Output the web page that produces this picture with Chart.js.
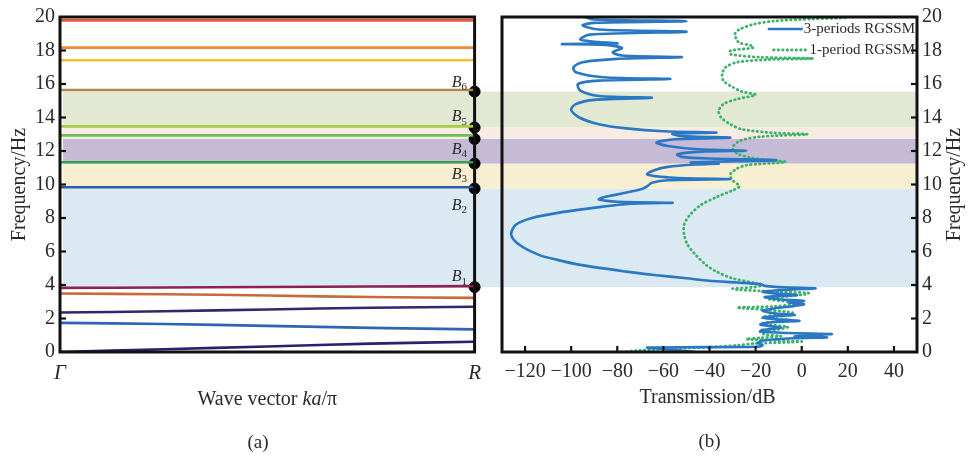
<!DOCTYPE html>
<html><head><meta charset="utf-8">
<script src="https://cdn.jsdelivr.net/npm/chart.js@4.4.1/dist/chart.umd.min.js"></script>
<style>
html,body{margin:0;padding:0;background:#fff;width:972px;height:456px;overflow:hidden}
#wrap{position:relative;width:972px;height:456px;background:#fff}
canvas{position:absolute;top:0}
#cL{left:0;width:490px;height:456px}
#cR{left:490px;width:482px;height:456px}
</style></head><body>
<div id="wrap"><canvas id="cL" width="490" height="456"></canvas><canvas id="cR" width="482" height="456"></canvas></div>
<script>
// ---------- DATA ----------
const freqTicks = [0, 2, 4, 6, 8, 10, 12, 14, 16, 18, 20];
const dbTicks = [-120, -100, -80, -60, -40, -20, 0, 20, 40];
const kTickVals = [0, 1];
const kTickLabels = ['Γ', 'R'];

// band structure (a): wave vector samples and band frequencies (Hz)
const kPts = [0, 0.25, 0.5, 0.75, 1];
const band1 = [0, 0.16, 0.33, 0.5, 0.61];
const band2 = [1.74, 1.67, 1.56, 1.44, 1.35];
const band3 = [2.36, 2.43, 2.54, 2.64, 2.70];
const band4 = [3.49, 3.45, 3.37, 3.28, 3.23];
const band5 = [3.83, 3.85, 3.88, 3.91, 3.93];
const band6 = [9.84, 9.84, 9.84, 9.84, 9.84];
const band7 = [11.33, 11.33, 11.33, 11.33, 11.33];
const band8 = [12.93, 12.93, 12.93, 12.93, 12.93];
const band9 = [13.47, 13.47, 13.47, 13.47, 13.47];
const band10 = [15.64, 15.64, 15.64, 15.64, 15.64];
const band11 = [17.42, 17.42, 17.42, 17.42, 17.42];
const band12 = [18.17, 18.17, 18.17, 18.17, 18.17];
const band13 = [19.8, 19.8, 19.8, 19.8, 19.8];

// band-gap edges at R (Hz) and labels B1..B6
const edgeFreqs = [3.87, 9.76, 11.25, 12.72, 13.4, 15.55];
const gapLabels = ['1', '2', '3', '4', '5', '6'];
const gapLabelFreqs = [4.5, 8.75, 10.6, 12.1, 14.05, 16.1];

// transmission (b): 3-periods RGSSM
const freq3 = [0, 0.12, 0.22, 0.27, 0.29, 0.31, 0.4, 0.55, 0.7, 0.82, 0.87, 0.92, 1.0, 1.07, 1.13, 1.22, 1.32, 1.45, 1.55, 1.65, 1.78, 1.86, 1.95, 2.05, 2.15, 2.22, 2.3, 2.45, 2.6, 2.75, 2.85, 2.95, 3.05, 3.15, 3.28, 3.4, 3.5, 3.6, 3.72, 3.8, 3.86, 3.95, 4.05, 4.15, 4.25, 4.4, 4.6, 4.8, 5.2, 5.5, 5.8, 6.4, 7.0, 7.6, 8.0, 8.35, 8.65, 8.85, 8.91, 8.97, 9.1, 9.2, 9.35, 9.58, 9.74, 9.9, 10.1, 10.25, 10.32, 10.4, 10.6, 10.85, 11.05, 11.2, 11.25, 11.32, 11.45, 11.55, 11.65, 11.8, 11.95, 12.02, 12.1, 12.3, 12.5, 12.7, 12.8, 12.9, 13.02, 13.1, 13.18, 13.35, 13.6, 14.0, 14.45, 14.8, 15.05, 15.18, 15.28, 15.6, 16.0, 16.2, 16.3, 16.4, 16.7, 17.0, 17.3, 17.5, 17.6, 17.7, 17.9, 18.15, 18.33, 18.38, 18.42, 18.5, 18.65, 18.95, 19.12, 19.25, 19.5, 19.65, 19.75, 19.85, 20.0];
const trans3 = [-46, -55, -64, -67, -45, -20, -17, -19, -16, -4, 11, -3, 2, 13, -6, -18, -17, -9, -14, -18, -13, -1, -11, -17, -10, -3, -11, -17, -12, -3, 1, -6, 1, -10, -16, -2, -12, -17, -6, 6, -8, -16, -18, -28, -40, -50, -64, -76, -96, -106, -114, -122.5, -126, -124, -117, -104, -88, -74, -56, -80, -88, -87, -82, -74, -69, -67, -65, -58, -31, -55, -67, -64, -58, -45, -36, -48, -11, -40, -52, -54, -45, -24, -45, -58, -63, -55, -31, -52, -56, -37, -60, -76, -88, -96.5, -100, -98, -90, -65, -88, -96, -97, -88, -57, -86, -98, -99, -95, -80, -52, -78, -82, -78, -85, -104, -80, -88, -96, -92, -50, -88, -95, -90, -50, -90, -94];

// transmission (b): 1-period RGSSM
const freq1 = [0, 0.1, 0.2, 0.3, 0.4, 0.5, 0.58, 0.63, 0.68, 0.77, 0.85, 0.95, 1.05, 1.2, 1.35, 1.5, 1.62, 1.72, 1.85, 1.92, 2.0, 2.1, 2.25, 2.35, 2.5, 2.62, 2.66, 2.72, 2.85, 2.92, 3.0, 3.15, 3.3, 3.45, 3.52, 3.6, 3.72, 3.78, 3.85, 3.95, 4.1, 4.4, 4.8, 5.2, 5.8, 6.4, 7.0, 7.6, 8.15, 8.75, 9.25, 9.65, 9.9, 10.25, 10.6, 10.95, 11.15, 11.3, 11.36, 11.45, 11.6, 11.85, 12.2, 12.6, 12.85, 13.0, 13.08, 13.3, 13.6, 14.0, 14.4, 14.8, 15.1, 15.35, 15.55, 15.9, 16.2, 16.6, 17.0, 17.3, 17.45, 17.52, 17.6, 17.78, 17.98, 18.17, 18.3, 18.45, 18.6, 18.97, 19.26, 19.56, 19.76, 19.88, 19.95];
const trans1 = [-78, -70, -55, -38, -28, -21, -5, 0, -10, -24, -18, -9, -16, -18, -10, -6, -14, -17, -8, -5, -12, -17, -8, -4, -14, -26, -28, -12, -3, 0, -5, -14, -8, 2, 3, -10, -28, -30, -22, -18, -20, -30, -37, -41.5, -46, -49.5, -51, -51, -48.7, -44, -37, -30, -27, -30, -31, -28, -24, -10, -7, -14, -22, -28, -30, -27, -18, 2.5, -12, -26, -31, -35, -36, -34, -28, -20, -26, -31, -34, -34.5, -33, -28, -15, 5, -18, -31, -31, -21, -22, -27, -28, -29, -27, -21, -12, 5, 20];

const seriesNames = ['3-periods RGSSM', '1-period RGSSM'];

// ---------- STYLE ----------
const SERIF = '"Liberation Serif", "Times New Roman", serif';
const TXT = '#2a2a2a';
const bandColors = ['#2d1f6e', '#2f64b4', '#2b2a6c', '#c8693a', '#8c2352', '#2a5aa8', '#3a9e4e', '#6cbf52', '#a9cb45', '#b08a48', '#f2c12e', '#f08a3c', '#e8543a'];
const gapFill = ['#dbeaf2', '#f8efd2', '#c5bbd7', '#f8ebe2', '#e2e9d3'];
const BLUE = '#2a78c4', GREEN = '#3cb26a';
const bands = [band1, band2, band3, band4, band5, band6, band7, band8, band9, band10, band11, band12, band13];

Chart.defaults.font.family = SERIF;
Chart.defaults.color = TXT;

function setTicks(vals) { return s => { s.ticks = vals.map(v => ({ value: v })); }; }
function fmtNum(v) { return (v < 0 ? '\u2212' : '') + Math.abs(v); }

function drawGaps(chart, x0, x1) {
  const ctx = chart.ctx, ys = chart.scales.y;
  ctx.save();
  for (let i = 0; i < edgeFreqs.length - 1; i++) {
    const yTop = ys.getPixelForValue(edgeFreqs[i + 1]);
    const yBot = ys.getPixelForValue(edgeFreqs[i]);
    ctx.fillStyle = gapFill[i];
    ctx.fillRect(x0, yTop, x1 - x0, yBot - yTop);
  }
  ctx.restore();
}
function drawBox(chart) {
  const { ctx, chartArea: a } = chart;
  ctx.save(); ctx.strokeStyle = '#111'; ctx.lineWidth = 3;
  ctx.strokeRect(a.left, a.top, a.right - a.left, a.bottom - a.top);
  ctx.restore();
}
function vText(ctx, txt, x, y) {
  ctx.save(); ctx.translate(x, y); ctx.rotate(-Math.PI / 2);
  ctx.textAlign = 'center'; ctx.textBaseline = 'middle'; ctx.fillText(txt, 0, 0); ctx.restore();
}

// ---------- LEFT (a) ----------
const leftPlugin = {
  id: 'leftDeco',
  beforeDatasetsDraw(chart) { drawGaps(chart, chart.chartArea.left + 3, chart.width); },
  afterDatasetsDraw(chart) {
    const { ctx, chartArea: a } = chart, ys = chart.scales.y;
    drawBox(chart);
    ctx.save();
    ctx.strokeStyle = '#111'; ctx.lineWidth = 2.2;
    freqTicks.forEach(v => {
      if (v === 0 || v === 20) return;
      const y = ys.getPixelForValue(v);
      ctx.beginPath(); ctx.moveTo(a.left, y); ctx.lineTo(a.left + 6, y); ctx.stroke();
    });
    // gap labels B_n
    ctx.fillStyle = TXT; ctx.textBaseline = 'middle';
    gapLabels.forEach((n, i) => {
      const y = ys.getPixelForValue(gapLabelFreqs[i]);
      ctx.font = 'italic 16px ' + SERIF; ctx.textAlign = 'right';
      ctx.fillText('B', a.right - 13, y);
      ctx.font = '11px ' + SERIF; ctx.textAlign = 'left';
      ctx.fillText(n, a.right - 13, y + 5);
    });
    // titles
    ctx.font = '20px ' + SERIF; ctx.fillStyle = TXT;
    vText(ctx, 'Frequency/Hz', 20, (a.top + a.bottom) / 2);
    const p1 = 'Wave vector ', p2 = 'ka', p3 = '/\u03c0';
    ctx.font = '20px ' + SERIF; const w1 = ctx.measureText(p1).width, w3 = ctx.measureText(p3).width;
    ctx.font = 'italic 20px ' + SERIF; const w2 = ctx.measureText(p2).width;
    let x = (a.left + a.right) / 2 - (w1 + w2 + w3) / 2;
    ctx.textAlign = 'left'; ctx.textBaseline = 'middle';
    ctx.font = '20px ' + SERIF; ctx.fillText(p1, x, 400); x += w1;
    ctx.font = 'italic 20px ' + SERIF; ctx.fillText(p2, x, 400); x += w2;
    ctx.font = '20px ' + SERIF; ctx.fillText(p3, x, 400);
    ctx.textAlign = 'center'; ctx.font = '19px ' + SERIF;
    ctx.fillText('(a)', 258, 443);
    ctx.restore();
  }
};

const leftSets = bands.map((b, i) => ({
  data: kPts.map((k, j) => ({ x: k, y: b[j] })),
  borderColor: bandColors[i], borderWidth: 2.6, pointRadius: 0, tension: 0.4, fill: false
}));
leftSets.push({
  data: edgeFreqs.map(f => ({ x: 1, y: f })),
  showLine: false, pointRadius: 5.5, pointBackgroundColor: '#000', pointBorderColor: '#000', clip: false
});

new Chart(document.getElementById('cL'), {
  type: 'line',
  data: { datasets: leftSets },
  options: {
    responsive: false, animation: false, devicePixelRatio: 1,
    layout: { padding: { left: 0, right: 15, top: 16, bottom: 0 } },
    plugins: { legend: { display: false }, tooltip: { enabled: false } },
    scales: {
      x: {
        type: 'linear', min: 0, max: 1,
        grid: { display: false, drawTicks: false }, border: { display: false },
        afterBuildTicks: setTicks(kTickVals),
        ticks: { autoSkip: false, maxRotation: 0, padding: 9, color: TXT,
          font: { family: SERIF, size: 21, style: 'italic' },
          callback: v => kTickLabels[kTickVals.indexOf(v)] },
        afterFit: s => { s.height = 104; }
      },
      y: {
        type: 'linear', min: 0, max: 20,
        grid: { display: false, drawTicks: false }, border: { display: false },
        afterBuildTicks: setTicks(freqTicks),
        ticks: { padding: 5, color: TXT, font: { family: SERIF, size: 20 } },
        afterFit: s => { s.width = 60; }
      }
    }
  },
  plugins: [leftPlugin]
});

// ---------- RIGHT (b) ----------
const rightPlugin = {
  id: 'rightDeco',
  beforeDatasetsDraw(chart) { drawGaps(chart, 0, chart.chartArea.right); },
  afterDatasetsDraw(chart) {
    const { ctx, chartArea: a } = chart, ys = chart.scales.y, xs = chart.scales.x;
    drawBox(chart);
    ctx.save();
    ctx.strokeStyle = '#111'; ctx.lineWidth = 2.2;
    freqTicks.forEach(v => {
      if (v === 0 || v === 20) return;
      const y = ys.getPixelForValue(v);
      ctx.beginPath(); ctx.moveTo(a.right - 6, y); ctx.lineTo(a.right, y); ctx.stroke();
    });
    dbTicks.forEach(v => {
      const x = xs.getPixelForValue(v);
      ctx.beginPath(); ctx.moveTo(x, a.bottom); ctx.lineTo(x, a.bottom - 6); ctx.stroke();
    });
    // legend
    ctx.font = '15px ' + SERIF; ctx.textBaseline = 'middle'; ctx.textAlign = 'right'; ctx.fillStyle = TXT;
    const rows = [{ y: 29, c: BLUE, dash: [], w: 2.6 }, { y: 50, c: GREEN, dash: [0.5, 4], w: 2.8 }];
    rows.forEach((r, i) => {
      const tx = a.right - 2;
      ctx.fillText(seriesNames[i], tx, r.y);
      const tw = ctx.measureText(seriesNames[i]).width;
      ctx.save(); ctx.strokeStyle = r.c; ctx.lineWidth = r.w; ctx.setLineDash(r.dash); ctx.lineCap = r.dash.length ? 'round' : 'butt';
      ctx.beginPath(); ctx.moveTo(tx - tw - 36, r.y); ctx.lineTo(tx - tw - 1, r.y); ctx.stroke(); ctx.restore();
    });
    // titles
    ctx.font = '20px ' + SERIF; ctx.fillStyle = TXT;
    vText(ctx, 'Frequency/Hz', a.right + 38, (a.top + a.bottom) / 2);
    ctx.textAlign = 'center'; ctx.textBaseline = 'middle';
    ctx.fillText('Transmission/dB', (a.left + a.right) / 2 - 2, 398);
    ctx.font = '19px ' + SERIF;
    ctx.fillText('(b)', (a.left + a.right) / 2, 442);
    ctx.restore();
  }
};

new Chart(document.getElementById('cR'), {
  type: 'line',
  data: {
    datasets: [
      { label: seriesNames[0], data: freq3.map((f, i) => ({ x: trans3[i], y: f })),
        borderColor: BLUE, borderWidth: 2.6, pointRadius: 0, tension: 0.3, fill: false },
      { label: seriesNames[1], data: freq1.map((f, i) => ({ x: trans1[i], y: f })),
        borderColor: GREEN, borderWidth: 2.8, borderDash: [0.5, 4], borderCapStyle: 'round',
        pointRadius: 0, tension: 0.3, fill: false }
    ]
  },
  options: {
    indexAxis: 'y',
    responsive: false, animation: false, devicePixelRatio: 1,
    layout: { padding: { left: 12, right: 0, top: 16, bottom: 0 } },
    plugins: { legend: { display: false }, tooltip: { enabled: false } },
    scales: {
      x: {
        type: 'linear', min: -130, max: 50,
        grid: { display: false, drawTicks: false }, border: { display: false },
        afterBuildTicks: setTicks(dbTicks),
        ticks: { autoSkip: false, maxRotation: 0, padding: 8, color: TXT,
          font: { family: SERIF, size: 20 }, callback: v => fmtNum(v) },
        afterFit: s => { s.height = 104; }
      },
      y: {
        type: 'linear', position: 'right', min: 0, max: 20,
        grid: { display: false, drawTicks: false }, border: { display: false },
        afterBuildTicks: setTicks(freqTicks),
        ticks: { padding: 5, color: TXT, font: { family: SERIF, size: 20 } },
        afterFit: s => { s.width = 55; }
      }
    }
  },
  plugins: [rightPlugin]
});
</script>
</body></html>
